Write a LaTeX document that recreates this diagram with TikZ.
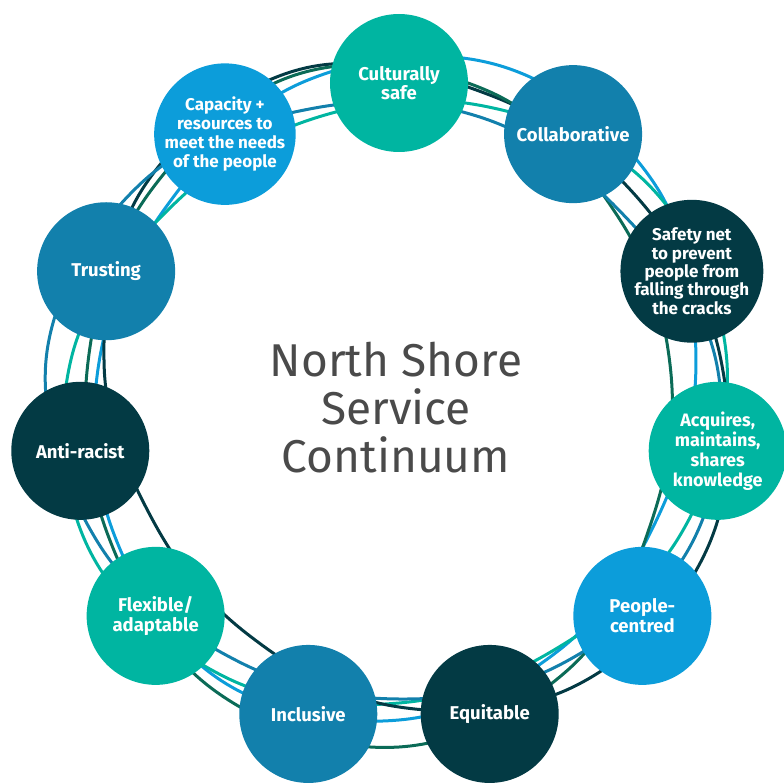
\documentclass[tikz,border=0pt]{standalone}
\usepackage{fontspec}
\setmainfont{Fira Sans}
\definecolor{cteal}{HTML}{00B5A1}
\definecolor{clblue}{HTML}{0C9DDA}
\definecolor{cmblue}{HTML}{1280AC}
\definecolor{cdark}{HTML}{033A44}
\definecolor{cgreen}{HTML}{0B6B57}
\definecolor{ctitle}{HTML}{4A4A4A}
\begin{document}
\begin{tikzpicture}[x=1pt,y=1pt,
  bubble/.style={circle, minimum size=138pt, inner sep=0pt, text=white, align=center,
     font=\bfseries\fontsize{18.5}{19.5}\selectfont},
]
\useasboundingbox (-399,-377) rectangle (385,405);
% rings
\draw[line width=3pt,clblue] plot[smooth cycle, tension=0.64] coordinates {(73.64:354) (40.91:338) (8.18:300) (-24.55:282) (-57.27:293) (-90:315) (-122.73:328) (-155.45:313) (-188.18:303) (139.09:306) (106.36:337)};
\draw[line width=3pt,cteal] plot[smooth cycle, tension=0.64] coordinates {(73.64:311) (40.91:333) (8.18:331) (-24.55:310) (-57.27:290) (-90:298) (-122.73:323) (-155.45:342) (-188.18:331) (139.09:302) (106.36:299)};
\draw[line width=3pt,cdark] plot[smooth cycle, tension=0.64] coordinates {(73.64:323) (40.91:316) (8.18:325) (-24.55:340) (-57.27:332) (-90:302) (-122.73:275) (-155.45:272) (-188.18:298) (139.09:336) (106.36:350)};
\draw[line width=3pt,cgreen] plot[smooth cycle, tension=0.64] coordinates {(73.64:326) (40.91:289) (8.18:274) (-24.55:278) (-57.27:314) (-90:342) (-122.73:340) (-155.45:319) (-188.18:314) (139.09:328) (106.36:346)};
\draw[line width=3pt,cmblue] plot[smooth cycle, tension=0.64] coordinates {(73.64:299) (40.91:294) (8.18:320) (-24.55:324) (-57.27:306) (-90:294) (-122.73:303) (-155.45:331) (-188.18:356) (139.09:340) (106.36:309)};
% bubbles
\node[bubble, fill=cteal]  (n0)  at (90:322) {Culturally\\safe};
\node[bubble, fill=cmblue] (n1)  at ({90-1*360/11}:322) {Collaborative};
\node[bubble, fill=cdark, font=\bfseries\fontsize{17}{18.3}\selectfont] (n2)  at ({90-2*360/11}:322) {Safety net\\to prevent\\people from\\falling through\\the cracks};
\node[bubble, fill=cteal, font=\bfseries\fontsize{18}{20}\selectfont]  (n3)  at ({90-3*360/11}:322) {Acquires,\\maintains,\\shares\\knowledge};
\node[bubble, fill=clblue] (n4)  at ({90-4*360/11}:322) {People-\\centred};
\node[bubble, fill=cdark]  (n5)  at ({90-5*360/11}:322) {Equitable};
\node[bubble, fill=cmblue] (n6)  at ({90-6*360/11}:322) {Inclusive};
\node[bubble, fill=cteal]  (n7)  at ({90-7*360/11}:322) {Flexible/\\adaptable};
\node[bubble, fill=cdark]  (n8)  at ({90-8*360/11}:322) {Anti-racist};
\node[bubble, fill=cmblue] (n9)  at ({90-9*360/11}:322) {Trusting};
\node[bubble, fill=clblue, font=\bfseries\fontsize{17}{19}\selectfont] (n10) at ({90-10*360/11}:322) {Capacity +\\resources to\\meet the needs\\of the people};
% title
\node[text=ctitle, align=center, font=\fontsize{46}{48}\selectfont] (title) at (-3,-3) {North Shore\\Service\\Continuum};
\end{tikzpicture}
\end{document}
